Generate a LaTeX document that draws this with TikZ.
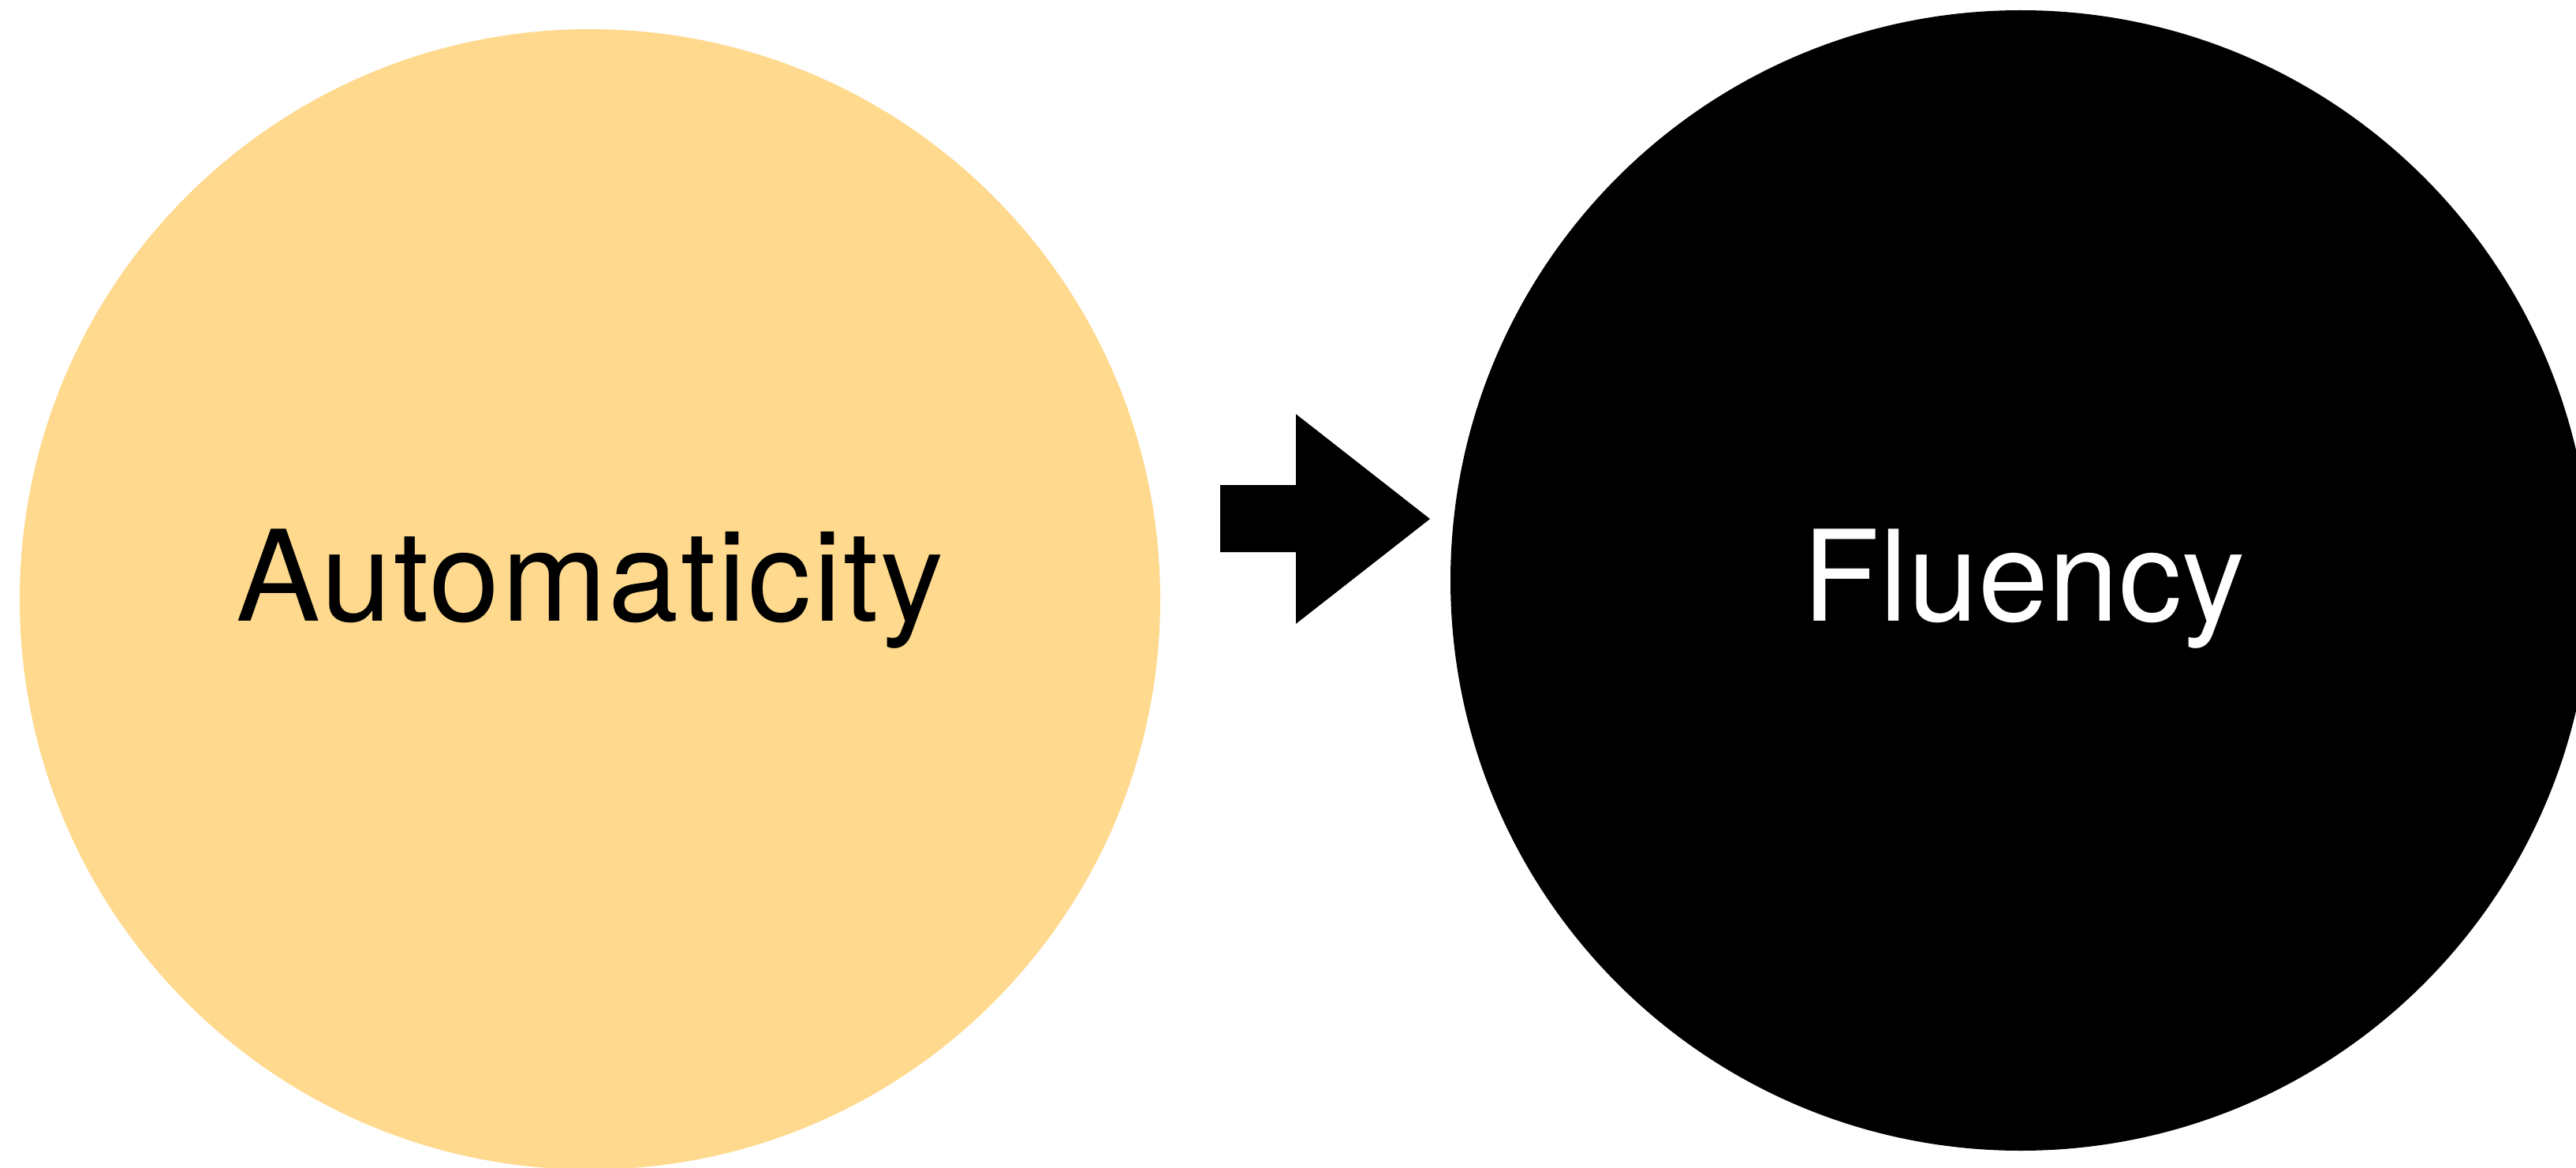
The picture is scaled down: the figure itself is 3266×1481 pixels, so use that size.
\documentclass[tikz,border=0pt]{standalone}
\usepackage{fontspec}
\setmainfont{TeX Gyre Heros}
\newfontfamily\autofont[LetterSpace=1.6]{TeX Gyre Heros}
\definecolor{autoyellow}{RGB}{254,217,142}
\begin{document}
\begin{tikzpicture}[x=0.5pt,y=-0.5pt,
  bubble/.style={circle, inner sep=0pt, minimum size=723pt, draw=none},
  bubbletext/.style={anchor=base, inner sep=0pt, font=\fontsize{80}{90}\selectfont}]
\useasboundingbox (0,0) rectangle (3266,1481);
\clip (0,0) rectangle (3266,1481);
\node[bubble, fill=autoyellow] (auto) at (748,760) {};
\node[bubble, fill=black] (flu) at (2562,736) {};
\node[bubbletext] (autotext) at (748,787) {\autofont Automaticity};
\node[bubbletext, text=white] (flutext) at (2566,787) {Fluency};
\fill[black] (1547,615) -- (1643,615) -- (1643,525) -- (1813,658) -- (1643,791) -- (1643,700) -- (1547,700) -- cycle;
\end{tikzpicture}
\end{document}
